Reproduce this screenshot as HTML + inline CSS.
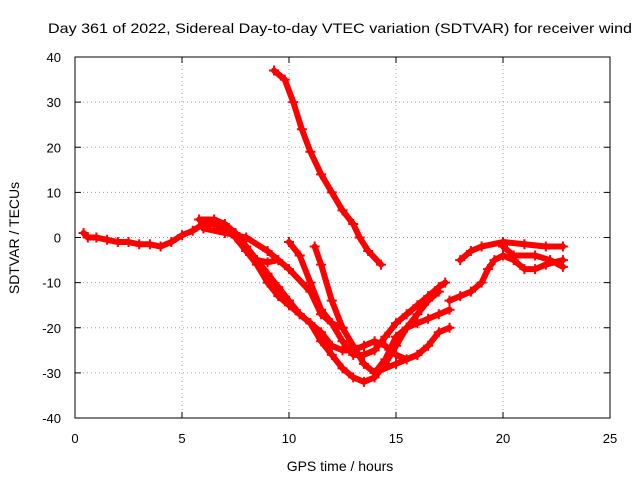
<!DOCTYPE html>
<html><head><meta charset="utf-8"><style>
body{margin:0;background:#fff}
svg{display:block;font-family:"Liberation Sans",sans-serif}
</style></head><body>
<svg id="chart" width="640" height="480" viewBox="0 0 640 480">
<rect width="640" height="480" fill="#fff"/>
<text x="48" y="33" font-size="14" textLength="584" lengthAdjust="spacingAndGlyphs" fill="#000">Day 361 of 2022, Sidereal Day-to-day VTEC variation (SDTVAR) for receiver wind</text>
<g id="grid"></g>
<g id="series"></g>
<rect x="75" y="57" width="535" height="361" fill="none" stroke="#000" stroke-width="1"/>
<g id="ticks"></g>
<text x="340" y="471" font-size="14" text-anchor="middle">GPS time / hours</text>
<text transform="translate(19,238) rotate(-90)" font-size="14" text-anchor="middle">SDTVAR / TECUs</text>
</svg>
<script>
const xTicks=[0,5,10,15,20,25];
const yTicks=[40,30,20,10,0,-10,-20,-30,-40];
const trackA=[[9.3,37],[9.8,35],[10.2,30],[10.6,24],[11,19],[11.5,14],[12,10],[12.5,6],[13,3],[13.3,0],[13.7,-3],[14.3,-6]];
const trackB=[[0.4,1],[0.6,0],[1,0],[1.5,-0.5],[2,-1],[2.5,-1],[3,-1.5],[3.5,-1.5],[4,-2],[4.5,-1],[5,0.5],[5.5,1.5],[6,3],[6.5,3],[7,2],[7.5,0],[8,-3],[8.5,-6],[9,-10],[9.5,-13],[10,-15],[10.5,-17],[11,-19],[11.5,-23],[12,-26],[12.5,-29],[13,-31],[13.5,-32],[14,-31],[14.5,-28],[15,-24],[15.5,-20],[16,-17],[16.5,-14],[17,-12]];
const trackC=[[5.8,4],[6.5,4],[7,3],[7.5,1],[8,-2],[8.5,-5],[9,-8],[9.5,-11],[10,-14],[10.5,-17],[11,-19],[11.5,-21],[12,-24],[12.5,-25],[13,-25],[13.5,-24],[14,-23],[14.5,-24],[15,-26],[15.5,-27],[16,-26]];
const trackD=[[10,-1],[10.5,-4],[11,-10],[11.5,-16],[12,-19],[12.5,-23],[13,-26],[13.5,-26],[14,-25],[14.5,-22],[15,-19],[15.5,-17],[16,-15],[16.5,-13],[17,-11],[17.3,-10]];
const trackE=[[11.2,-2],[11.5,-6],[12,-14],[12.5,-20],[13,-24],[13.5,-28],[14,-30],[14.5,-27],[15,-22],[15.5,-20],[16,-19],[16.5,-18],[17,-17],[17.5,-16]];
const trackF=[[7,2],[7.5,0],[8,-3],[8.5,-5],[9,-5.5],[9.5,-5]];
const trackG=[[6,2],[7,1],[8,0],[9,-3],[10,-7],[11,-12],[11.5,-17],[12,-19],[12.5,-20]];
const trackH=[[17.5,-14],[18,-13],[18.5,-12],[19,-10],[19.3,-7],[19.6,-5],[20,-4],[20.5,-5],[21,-7],[21.5,-7],[22,-6],[22.8,-5]];
const trackI=[[18,-5],[18.5,-3],[19,-2],[20,-1],[21,-1.5],[22,-2],[22.8,-2]];
const trackJ=[[20,-2],[20.5,-4],[21.5,-4],[22.2,-5],[22.8,-6.5]];
const trackK=[[14,-30],[15,-28],[16,-26],[16.5,-24],[17,-21],[17.5,-20]];
const tracks=[trackA,trackB,trackC,trackD,trackE,trackF,trackG,trackH,trackI,trackJ,trackK];
const X0=75,X1=610,Y0=418,Y1=57;
function xs(v){return X0+(v-0)/25*(X1-X0);}
function ys(v){return Y0-(v+40)/80*(Y0-Y1);}
const NS="http://www.w3.org/2000/svg";
function mk(t,a,p){const e=document.createElementNS(NS,t);for(const k in a)e.setAttribute(k,a[k]);p.appendChild(e);return e;}
const grid=document.getElementById('grid'),ticks=document.getElementById('ticks'),ser=document.getElementById('series');
xTicks.forEach(t=>{const x=xs(t);
 if(t>0&&t<25){const g=mk('line',{x1:x,x2:x,y1:Y1,y2:Y0,stroke:'#a0a0a0','stroke-dasharray':'1,3'},grid);
 
 }
 const tx=mk('text',{x:x,y:443,'font-size':13,'text-anchor':'middle'},ticks);tx.textContent=t;
 
 
 mk('line',{x1:x,x2:x,y1:Y0,y2:Y0-6,stroke:'#000'},ticks);mk('line',{x1:x,x2:x,y1:Y1,y2:Y1+6,stroke:'#000'},ticks);});
yTicks.forEach(t=>{const y=ys(t);
 if(t>-40&&t<40){const g=mk('line',{x1:X0,x2:X1,y1:y,y2:y,stroke:'#a0a0a0','stroke-dasharray':'1,3'},grid);
 
 }
 const tx=mk('text',{x:61,y:y+5,'font-size':13,'text-anchor':'end'},ticks);tx.textContent=t;
 
 
 mk('line',{x1:X0,x2:X0+6,y1:y,y2:y,stroke:'#000'},ticks);mk('line',{x1:X1,x2:X1-6,y1:y,y2:y,stroke:'#000'},ticks);});
tracks.forEach((tr,i)=>{
 const pl=mk('polyline',{points:tr.map(p=>xs(p[0])+','+ys(p[1])).join(' '),fill:'none',stroke:'#ff0000','stroke-width':6,'stroke-linejoin':'round','stroke-linecap':'round'},ser);
 
 
 tr.forEach(p=>{const x=xs(p[0]),y=ys(p[1]);
  const m=mk('path',{d:`M${x-5},${y}H${x+5}M${x},${y-5}V${y+5}`,stroke:'#ff0000','stroke-width':2},ser);
  
  });
});
</script>
</body></html>
